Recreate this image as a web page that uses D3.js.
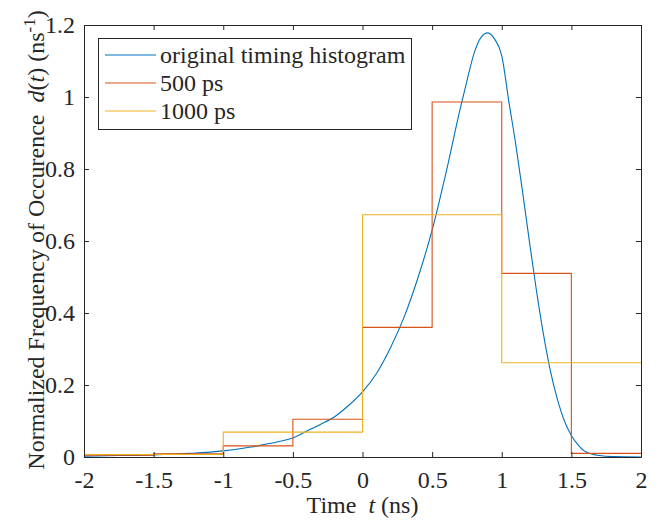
<!DOCTYPE html>
<html><head><meta charset="utf-8">
<script src="https://cdn.jsdelivr.net/npm/d3@7/dist/d3.min.js"></script>
<style>
body{margin:0;background:#fff;}
svg text{font-family:"Liberation Serif","Times New Roman",serif;fill:#262626;}
</style></head>
<body><svg id="chart" width="662" height="523"></svg>
<script>
// ---- data ----
const xTicks = [-2, -1.5, -1, -0.5, 0, 0.5, 1, 1.5, 2];
const xTickLabels = ["-2", "-1.5", "-1", "-0.5", "0", "0.5", "1", "1.5", "2"];
const yTicks = [0, 0.2, 0.4, 0.6, 0.8, 1, 1.2];
const yTickLabels = ["0", "0.2", "0.4", "0.6", "0.8", "1", "1.2"];

const curveT = [-2, -1.75, -1.5, -1.25, -1, -0.8, -0.6, -0.5, -0.4, -0.3, -0.2, -0.1, 0, 0.1, 0.2, 0.3, 0.4, 0.5, 0.6, 0.7, 0.75, 0.8, 0.85, 0.9, 0.95, 1.0, 1.05, 1.1, 1.15, 1.2, 1.25, 1.3, 1.35, 1.4, 1.45, 1.5, 1.55, 1.6, 1.7, 1.8, 2.0];
const curveV = [0.002, 0.004, 0.006, 0.010, 0.017, 0.028, 0.043, 0.053, 0.072, 0.091, 0.112, 0.143, 0.181, 0.232, 0.303, 0.390, 0.500, 0.630, 0.790, 0.965, 1.045, 1.120, 1.165, 1.178, 1.160, 1.115, 0.990, 0.870, 0.735, 0.595, 0.460, 0.340, 0.238, 0.160, 0.100, 0.060, 0.033, 0.015, 0.004, 0.001, 0.000];

const edges500 = [-2, -1.5, -1, -0.5, 0, 0.5, 1, 1.5, 2];
const vals500 = [0.005, 0.009, 0.031, 0.105, 0.360, 0.986, 0.510, 0.010];
const edges1000 = [-2, -1, 0, 1, 2];
const vals1000 = [0.007, 0.069, 0.673, 0.262];

const seriesNames = ["original timing histogram", "500 ps", "1000 ps"];
const colors = ["#0072BD", "#D95319", "#EDB120"];

// ---- layout ----
const L = 84, R = 641, T = 25, B = 457;
const FS = 24;
const svg = d3.select("#chart");
const x = d3.scaleLinear().domain([-2, 2]).range([L, R]);
const y = d3.scaleLinear().domain([0, 1.2]).range([B, T]);
const axisColor = "#262626";

// data lines
const g = svg.append("g");
const line = d3.line().x(d => x(d[0])).y(d => y(d[1])).curve(d3.curveMonotoneX);
g.append("path").datum(curveT.map((t, i) => [t, curveV[i]]))
  .attr("d", line).attr("fill", "none").attr("stroke", colors[0]).attr("stroke-width", 1.1);

function stairs(edges, vals) {
  const pts = vals.map((v, i) => [edges[i], v]);
  pts.push([edges[edges.length - 1], vals[vals.length - 1]]);
  return pts;
}
const stepLine = d3.line().x(d => x(d[0])).y(d => y(d[1])).curve(d3.curveStepAfter);
g.append("path").datum(stairs(edges500, vals500))
  .attr("d", stepLine).attr("fill", "none").attr("stroke", colors[1]).attr("stroke-width", 1.1);
g.append("path").datum(stairs(edges1000, vals1000))
  .attr("d", stepLine).attr("fill", "none").attr("stroke", colors[2]).attr("stroke-width", 1.1);

// axes (box with inward ticks)
const tickLen = 5;
const fmtX = (d, i) => xTickLabels[i];
const fmtY = (d, i) => yTickLabels[i];
const axB = svg.append("g").attr("transform", `translate(0,${B})`)
  .call(d3.axisBottom(x).tickValues(xTicks).tickFormat(fmtX).tickSizeInner(-tickLen).tickSizeOuter(0).tickPadding(14));
const axT = svg.append("g").attr("transform", `translate(0,${T})`)
  .call(d3.axisTop(x).tickValues(xTicks).tickFormat("").tickSizeInner(-tickLen).tickSizeOuter(0));
const axL = svg.append("g").attr("transform", `translate(${L},0)`)
  .call(d3.axisLeft(y).tickValues(yTicks).tickFormat(fmtY).tickSizeInner(-tickLen).tickSizeOuter(0).tickPadding(9));
const axR = svg.append("g").attr("transform", `translate(${R},0)`)
  .call(d3.axisRight(y).tickValues(yTicks).tickFormat("").tickSizeInner(-tickLen).tickSizeOuter(0));
[axB, axT, axL, axR].forEach(a => {
  a.selectAll("path.domain").attr("stroke", axisColor).attr("stroke-width", 1);
  a.selectAll(".tick line").attr("stroke", axisColor).attr("stroke-width", 1);
  a.selectAll("text").attr("font-size", FS).attr("fill", axisColor)
    .attr("font-family", '"Liberation Serif","Times New Roman",serif');
});

// axis labels
const xl = svg.append("text").attr("x", (L + R) / 2).attr("y", 513)
  .attr("text-anchor", "middle").attr("font-size", FS);
xl.append("tspan").text("Time\u00A0\u00A0");
xl.append("tspan").attr("font-style", "italic").text("t");
xl.append("tspan").text(" (ns)");

const yl = svg.append("text").attr("transform", `translate(44,${(T + B) / 2 - 1}) rotate(-90)`)
  .attr("text-anchor", "middle").attr("font-size", FS);
yl.append("tspan").text("Normalized Frequency of Occurence\u00A0\u00A0");
yl.append("tspan").attr("font-style", "italic").text("d");
yl.append("tspan").text("(");
yl.append("tspan").attr("font-style", "italic").text("t");
yl.append("tspan").text(") (ns");
yl.append("tspan").attr("dy", -9).attr("font-size", 17).text("-1");
yl.append("tspan").attr("dy", 9).text(")");

// legend
const lg = svg.append("g");
lg.append("rect").attr("x", 98.5).attr("y", 38.5).attr("width", 313).attr("height", 91)
  .attr("fill", "#fff").attr("stroke", axisColor).attr("stroke-width", 1);
seriesNames.forEach((name, i) => {
  const yy = 55 + i * 28;
  lg.append("line").attr("x1", 105).attr("x2", 156).attr("y1", yy).attr("y2", yy)
    .attr("stroke", colors[i]).attr("stroke-width", 1.1);
  lg.append("text").attr("x", 160).attr("y", yy + 8).attr("font-size", FS).text(name);
});
</script></body></html>
